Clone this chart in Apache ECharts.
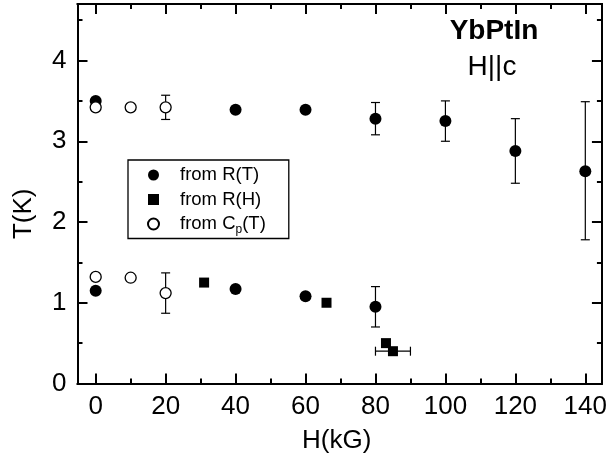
<!DOCTYPE html>
<html><head><meta charset="utf-8">
<script src="https://cdn.jsdelivr.net/npm/echarts@6/dist/echarts.min.js"></script>
<style>html,body{margin:0;padding:0;background:#fff}#c{width:610px;height:461px}</style>
</head><body><div id="c"></div>
<script>
// ---- data ----
const rtPoints = [[0,3.50],[40,3.39],[60,3.39],[80,3.28],[100,3.25],[120,2.88],[140,2.63],
                  [0,1.15],[40,1.17],[60,1.08],[80,0.95]];
const rhPoints = [[31,1.25],[66,1.00],[83,0.50],[85,0.40]];
const cpPoints = [[0,3.42],[10,3.42],[20,3.42],[0,1.32],[10,1.31],[20,1.12]];
// vertical error bars: [x, y, halfError]
const yErrors = [[80,3.28,0.20],[100,3.25,0.25],[120,2.88,0.40],[140,2.635,0.855],
                 [80,0.95,0.25],[20,3.42,0.15],[20,1.12,0.25]];
// horizontal error bars: [x, y, halfError]
const xErrors = [[85,0.40,5]];
const xMajorTicks = [0,20,40,60,80,100,120,140];
const xMinorTicks = [10,30,50,70,90,110,130];
const yMajorTicks = [0,1,2,3,4];
const yMinorTicks = [0.5,1.5,2.5,3.5,4.5];
const xRange = [-5.2, 144.75];
const yRange = [0, 4.7];
const legendNames = ['from R(T)','from R(H)','from Cp(T)'];

const FONT = 'Liberation Sans, Arial, sans-serif';
const chart = echarts.init(document.getElementById('c'));

function xAx(pos, ticks, len, labels) {
  return {
    type:'value', position:pos, min:xRange[0], max:xRange[1],
    axisLine:{show:true, onZero:false, lineStyle:{color:'#000', width:2}},
    axisTick:{show:true, inside:true, length:len, customValues:ticks, lineStyle:{color:'#000', width:2}},
    axisLabel:{show:labels, customValues:ticks, fontSize:26, fontFamily:FONT, color:'#000', margin:10},
    splitLine:{show:false}
  };
}
function yAx(pos, ticks, len, labels) {
  return {
    type:'value', position:pos, min:yRange[0], max:yRange[1],
    axisLine:{show:true, onZero:false, lineStyle:{color:'#000', width:2}},
    axisTick:{show:true, inside:true, length:len, customValues:ticks, lineStyle:{color:'#000', width:2}},
    axisLabel:{show:labels, customValues:ticks, fontSize:26, fontFamily:FONT, color:'#000', margin:11},
    splitLine:{show:false}
  };
}
const xAxes = [xAx('bottom', xMajorTicks, 10, true), xAx('bottom', xMinorTicks, 5, false),
               xAx('top', xMajorTicks, 10, false), xAx('top', xMinorTicks, 5, false)];
xAxes[0].name = 'H(kG)';
xAxes[0].nameLocation = 'middle';
xAxes[0].nameGap = 44;
xAxes[0].nameTextStyle = {fontSize:26, fontFamily:FONT, color:'#000', padding:[0,6,0,0]};
const yAxes = [yAx('left', yMajorTicks, 10, true), yAx('left', yMinorTicks, 5, false),
               yAx('right', yMajorTicks, 10, false), yAx('right', yMinorTicks, 5, false)];
yAxes[0].name = 'T(K)';
yAxes[0].nameLocation = 'middle';
yAxes[0].nameGap = 41;
yAxes[0].nameTextStyle = {fontSize:26, fontFamily:FONT, color:'#000', padding:[0,40,0,0]};

function errRender(params, api) {
  const x = api.value(0), y = api.value(1), e = api.value(2), dir = api.value(3);
  const cap = 4.5;
  const st = {stroke:'#000', lineWidth:1.2};
  if (dir === 0) {
    const p1 = api.coord([x, y + e]), p2 = api.coord([x, y - e]);
    return {type:'group', children:[
      {type:'line', shape:{x1:p1[0], y1:p1[1], x2:p2[0], y2:p2[1]}, style:st},
      {type:'line', shape:{x1:p1[0]-cap, y1:p1[1], x2:p1[0]+cap, y2:p1[1]}, style:st},
      {type:'line', shape:{x1:p2[0]-cap, y1:p2[1], x2:p2[0]+cap, y2:p2[1]}, style:st}
    ]};
  } else {
    const p1 = api.coord([x - e, y]), p2 = api.coord([x + e, y]);
    return {type:'group', children:[
      {type:'line', shape:{x1:p1[0], y1:p1[1], x2:p2[0], y2:p2[1]}, style:st},
      {type:'line', shape:{x1:p1[0], y1:p1[1]-cap, x2:p1[0], y2:p1[1]+cap}, style:st},
      {type:'line', shape:{x1:p2[0], y1:p2[1]-cap, x2:p2[0], y2:p2[1]+cap}, style:st}
    ]};
  }
}
const errData = yErrors.map(d => [d[0], d[1], d[2], 0]).concat(xErrors.map(d => [d[0], d[1], d[2], 1]));

chart.setOption({
  animation:false,
  backgroundColor:'#fff',
  grid:{left:77.5, top:4, right:5.3, bottom:77.5, containLabel:false},
  xAxis:xAxes, yAxis:yAxes,
  legend:{
    data:[{name:legendNames[0], icon:'circle'},{name:legendNames[1], icon:'rect'},{name:legendNames[2], icon:'circle'}],
    orient:'vertical', left:128, top:160,
    padding:[5,23,3,19],
    itemWidth:11, itemHeight:11, itemGap:4.5,
    borderColor:'#000', borderWidth:1.3,
    selectedMode:false,
    textStyle:{fontSize:18.5, fontFamily:FONT, color:'#000', lineHeight:20, padding:[0,0,0,16],
      rich:{sub:{fontSize:12, fontFamily:FONT, color:'#000', padding:[11,0,0,0]}}},
    formatter: n => n === 'from Cp(T)' ? 'from C{sub|p}(T)' : n
  },
  graphic:[
    {type:'text', x:494, y:31.5, style:{text:'YbPtIn', fontSize:28, fontWeight:'bold', fontFamily:FONT, fill:'#000', textAlign:'center', textVerticalAlign:'middle'}},
    {type:'text', x:492, y:67.5, style:{text:'H||c', fontSize:28, fontFamily:FONT, fill:'#000', textAlign:'center', textVerticalAlign:'middle'}}
  ],
  series:[
    {type:'custom', name:'err', renderItem:errRender, data:errData, z:1, silent:true},
    {type:'scatter', name:legendNames[0], data:rtPoints, symbol:'circle', symbolSize:12,
      itemStyle:{color:'#000', opacity:1}, z:2},
    {type:'scatter', name:legendNames[1], data:rhPoints, symbol:'rect', symbolSize:10,
      itemStyle:{color:'#000', opacity:1}, z:2},
    {type:'scatter', name:legendNames[2], data:cpPoints, symbol:'circle', symbolSize:11,
      itemStyle:{color:'#fff', borderColor:'#000', borderWidth:1.3, opacity:1}, z:3}
  ]
});
</script></body></html>
